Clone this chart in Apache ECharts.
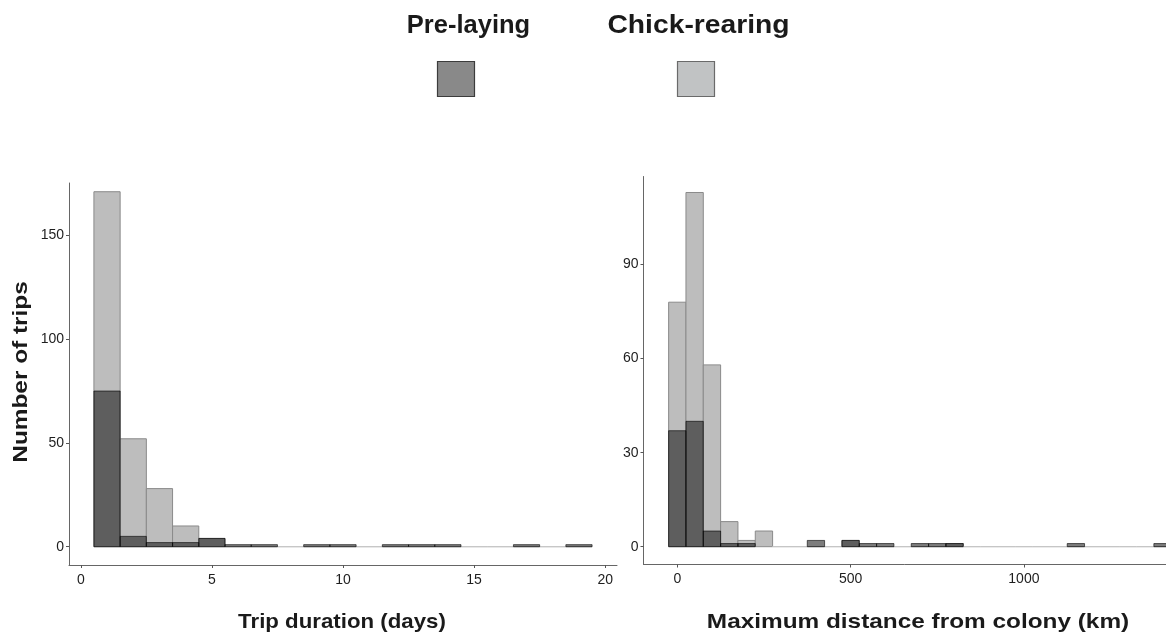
<!DOCTYPE html>
<html>
<head>
<meta charset="utf-8">
<title>Trip duration and maximum distance</title>
<script src="https://cdn.jsdelivr.net/npm/echarts@6/dist/echarts.min.js"></script>
<style>
  html, body { margin: 0; padding: 0; background: #ffffff; }
  #chart { width: 1166px; height: 639px; }
</style>
</head>
<body>
<div id="chart"></div>
<script>
// Trip duration histogram: bin centres (days) and trip counts per stage
const durationBins = [1, 2, 3, 4, 5, 6, 7, 8, 9, 10, 11, 12, 13, 14, 15, 16, 17, 18, 19];
const durationChickRearing = [171, 52, 28, 10, 4, 0, 0, 0, 0, 0, 0, 0, 0, 0, 0, 0, 0, 0, 0];
const durationPreLaying    = [75, 5, 2, 2, 4, 1, 1, 0, 1, 1, 0, 1, 1, 1, 0, 0, 1, 0, 1];

// Maximum distance histogram: bin centres (km) and trip counts per stage
const distanceBins = [0, 50, 100, 150, 200, 250, 300, 350, 400, 450, 500, 550, 600, 650, 700,
                      750, 800, 850, 900, 950, 1000, 1050, 1100, 1150, 1200, 1250, 1300, 1350, 1400];
const distanceChickRearing = [78, 113, 58, 8, 2, 5, 0, 0, 0, 0, 2, 0, 0, 0, 0,
                              0, 1, 0, 0, 0, 0, 0, 0, 0, 0, 0, 0, 0, 0];
const distancePreLaying    = [37, 40, 5, 1, 1, 0, 0, 0, 2, 0, 2, 1, 1, 0, 1,
                              1, 1, 0, 0, 0, 0, 0, 0, 1, 0, 0, 0, 0, 1];

// Tick labels
const durationTicks = [0, 5, 10, 15, 20];
const durationCountTicks = [0, 50, 100, 150];
const distanceTicks = [0, 500, 1000];
const distanceCountTicks = [0, 30, 60, 90];

const stageNames = ['Pre-laying', 'Chick-rearing'];

const FONT = '"Liberation Sans", Arial, Helvetica, sans-serif';
const CHICK_FILL = '#bdbdbd';
const CHICK_STROKE = '#8a8a8a';
const PRE_FILL = 'rgba(10,10,10,0.53)';
const PRE_STROKE = 'rgba(0,0,0,0.6)';

function pairs(bins, counts) {
  return bins.map(function (b, i) { return [b, counts[i]]; });
}

// Histogram bars: each bin is a rectangle spanning [centre - w/2, centre + w/2]
function histRenderer(binWidth, fill, stroke, drawEmpty) {
  return function (params, api) {
    const centre = api.value(0);
    const count = api.value(1);
    if (!drawEmpty && count === 0) return null;
    const p0 = api.coord([centre - binWidth / 2, 0]);
    const p1 = api.coord([centre + binWidth / 2, count]);
    return {
      type: 'rect',
      shape: { x: p0[0], y: p1[1], width: p1[0] - p0[0], height: p0[1] - p1[1] },
      style: { fill: count === 0 ? 'none' : fill, stroke: count === 0 ? '#c4c4c4' : stroke, lineWidth: 1 }
    };
  };
}

function plainNumber(v) { return String(v); }

function valueAxisX(gridIndex, min, max, ticks) {
  return {
    type: 'value', gridIndex: gridIndex, min: min, max: max,
    splitLine: { show: false },
    axisLine: { show: true, onZero: false, lineStyle: { color: '#666', width: 1 } },
    axisTick: { show: true, length: 3, customValues: ticks, lineStyle: { color: '#555' } },
    axisLabel: { customValues: ticks, formatter: plainNumber, margin: 8, color: '#1e1e1e', fontSize: 14, fontFamily: FONT }
  };
}

function valueAxisY(gridIndex, min, max, ticks) {
  return {
    type: 'value', gridIndex: gridIndex, min: min, max: max,
    splitLine: { show: false },
    axisLine: { show: true, onZero: false, lineStyle: { color: '#666', width: 1 } },
    axisTick: { show: true, length: 3, customValues: ticks, lineStyle: { color: '#555' } },
    axisLabel: { customValues: ticks, formatter: plainNumber, margin: 5, color: '#1e1e1e', fontSize: 14, fontFamily: FONT }
  };
}

function label(text, x, y, size, stretch, rotation) {
  return {
    type: 'text', x: x, y: y, rotation: rotation || 0, scaleX: stretch,
    style: { text: text, fontFamily: FONT, fontWeight: 'bold', fontSize: size, fill: '#1a1a1a', align: 'center', verticalAlign: 'middle' }
  };
}

const chart = echarts.init(document.getElementById('chart'), null, { renderer: 'canvas' });

chart.setOption({
  backgroundColor: '#ffffff',
  animation: false,
  textStyle: { fontFamily: FONT },
  grid: [
    { left: 69, top: 183, width: 548, height: 382 },
    { left: 643.5, top: 176.5, right: 0, height: 388 }
  ],
  xAxis: [
    valueAxisX(0, -0.45, 20.45, durationTicks),
    valueAxisX(1, -97.5, 1410, distanceTicks)
  ],
  yAxis: [
    valueAxisY(0, -8.8, 175.2, durationCountTicks),
    valueAxisY(1, -5.68, 118.1, distanceCountTicks)
  ],
  series: [
    {
      name: stageNames[1], type: 'custom', xAxisIndex: 0, yAxisIndex: 0, clip: true,
      renderItem: histRenderer(1, CHICK_FILL, CHICK_STROKE, true),
      data: pairs(durationBins, durationChickRearing)
    },
    {
      name: stageNames[0], type: 'custom', xAxisIndex: 0, yAxisIndex: 0, clip: true,
      renderItem: histRenderer(1, PRE_FILL, PRE_STROKE, false),
      data: pairs(durationBins, durationPreLaying)
    },
    {
      name: stageNames[1], type: 'custom', xAxisIndex: 1, yAxisIndex: 1, clip: true,
      renderItem: histRenderer(50, CHICK_FILL, CHICK_STROKE, true),
      data: pairs(distanceBins, distanceChickRearing)
    },
    {
      name: stageNames[0], type: 'custom', xAxisIndex: 1, yAxisIndex: 1, clip: true,
      renderItem: histRenderer(50, PRE_FILL, PRE_STROKE, false),
      data: pairs(distanceBins, distancePreLaying)
    }
  ],
  graphic: [
    // legend: stage labels with their key swatches beneath
    label(stageNames[0], 468.5, 26, 25, 1.02),
    label(stageNames[1], 698.5, 26, 25, 1.13),
    { type: 'rect', shape: { x: 437.5, y: 61.5, width: 37, height: 35 }, style: { fill: '#898989', stroke: '#3c3c3c', lineWidth: 1.2 } },
    { type: 'rect', shape: { x: 677.5, y: 61.5, width: 37, height: 35 }, style: { fill: '#c1c3c4', stroke: '#6a6a6a', lineWidth: 1.2 } },
    // axis titles
    label('Number of trips', 21, 372, 21, 1.16, Math.PI / 2),
    label('Trip duration (days)', 342, 622, 21, 1.06),
    label('Maximum distance from colony (km)', 918, 622, 21, 1.16)
  ]
});
</script>
</body>
</html>
